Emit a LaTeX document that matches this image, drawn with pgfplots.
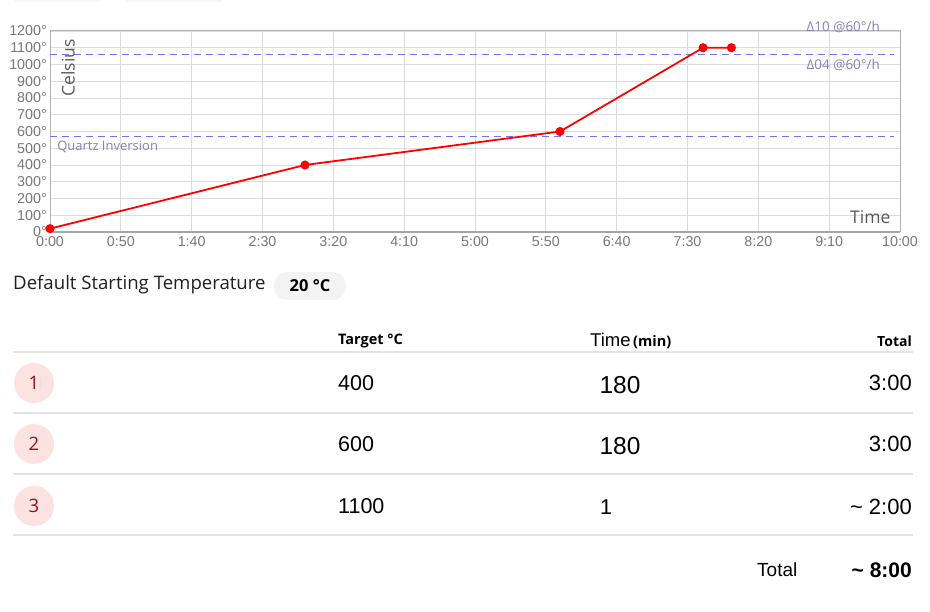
\documentclass[border=0pt]{standalone}
\usepackage{pgfplots}
\pgfplotsset{compat=1.18}
\usepackage{fontspec}
\setmainfont{Open Sans}
\newfontfamily\lib{Liberation Sans}
\definecolor{tickc}{HTML}{777777}
\definecolor{gridc}{HTML}{DCDCDC}
\definecolor{dashc}{HTML}{7070F8}
\definecolor{annc}{HTML}{8A7FB5}
\definecolor{pinkc}{HTML}{FDE2E2}
\definecolor{darkred}{HTML}{951515}
\definecolor{sepc}{HTML}{E3E3E3}
\definecolor{badgec}{HTML}{F3F3F3}
\newcommand\fs[1]{\fontsize{#1}{#1}\selectfont}
\begin{document}
\begin{tikzpicture}[x=1pt,y=1pt]
\useasboundingbox (0,0) rectangle (930,-612);
\fill[white] (0,0) rectangle (930,-612);
\fill[gray!8] (15,0) rectangle (100,-2.5);
\fill[gray!8] (125,0) rectangle (222,-2.5);
\begin{axis}[
  at={(50pt,-232pt)}, anchor=south west,
  scale only axis, width=850pt, height=201pt,
  xmin=0, xmax=600, ymin=0, ymax=1200,
  xtick={0,50,...,600},
  xticklabels={0:00,0:50,1:40,2:30,3:20,4:10,5:00,5:50,6:40,7:30,8:20,9:10,10:00},
  ytick={0,100,...,1200},
  yticklabels={0°,100°,200°,300°,400°,500°,600°,700°,800°,900°,1000°,1100°,1200°},
  grid=major, major grid style={draw=gridc, line width=0.9pt},
  axis line style={draw=black!30, line width=1pt},
  major tick length=0pt,
  tick label style={font=\lib\fs{14.3}, text=tickc},
  yticklabel style={inner sep=1pt, xshift=-2pt},
  xticklabel style={inner sep=1pt, yshift=-3.5pt},
  clip=false,
]
\draw[black!35, line width=2pt] (axis cs:0,0) -- (axis cs:600,0);
\addplot[color=dashc, solid, line width=1.1pt, dash pattern=on 7pt off 5pt, forget plot] coordinates {(0,571) (596,571)};
\addplot[color=dashc, solid, line width=1.3pt, dash pattern=on 7pt off 5pt, forget plot] coordinates {(0,1061) (596,1061)};
\addplot[red, line width=1.8pt, mark=*, mark size=3.6pt, mark options={fill=red, draw=red, solid}]
  coordinates {(0,20) (180,400) (360,600) (461,1100) (481,1100)};
\node[anchor=west, font=\fs{13}, text=annc, inner sep=0pt] at (axis cs:5,509) {Quartz Inversion};
\node[anchor=east, font=\fs{13.5}, text=annc, inner sep=0pt] at (axis cs:586,1000) {Δ04 @60°/h};
\node[anchor=east, font=\fs{13.5}, text=annc, inner sep=0pt] at (axis cs:586,1225) {Δ10 @60°/h};
\node[rotate=90, font=\fs{17.5}, text=black!65, inner sep=0pt] at (axis cs:12.7,979) {Celsius};
\node[font=\fs{17.5}, text=black!65, inner sep=0pt] at (axis cs:579,90) {Time};
\end{axis}
% settings area
\node[anchor=west, font=\fs{18.6}, text=black!88, inner sep=0pt] at (13,-285) {Default Starting Temperature};
\node[fill=badgec, rounded corners=13pt, minimum width=72pt, minimum height=28pt, font=\bfseries\fs{16.5}, inner sep=0pt] at (310,-286) {20 °C};
% header
\node[anchor=west, font=\bfseries\fs{14.5}, inner sep=0pt] at (338,-341) {Target °C};
\node[anchor=west, inner sep=0pt] at (590,-341) {{\lib\fs{18.5}Time} {\bfseries\fs{14.5}(min)}};
\node[anchor=east, font=\bfseries\fs{14}, inner sep=0pt] at (912,-341) {Total};
\foreach \yy in {352,413,474,535} {\draw[sepc, line width=1.3pt] (13,-\yy) -- (913,-\yy);}
% rows
\foreach \yy/\n/\tg/\tm/\tt in {383/1/400/180/3:00, 444/2/600/180/3:00} {
  \fill[pinkc] (34,-\yy) circle (20);
  \node[text=darkred, font=\fs{18.5}, inner sep=0pt] at (34,-\yy) {\n};
  \node[anchor=west, font=\lib\fs{21.5}, inner sep=0pt] at (338,-\yy) {\tg};
  \node[font=\lib\fs{24.5}, inner sep=0pt] at (620,-\yy-2) {\tm};
  \node[anchor=east, font=\lib\fs{22}, inner sep=0pt] at (912,-\yy) {\tt};
}
\fill[pinkc] (34,-506) circle (20);
\node[text=darkred, font=\fs{18.5}, inner sep=0pt] at (34,-506) {3};
\node[anchor=west, font=\lib\fs{21.5}, inner sep=0pt] at (338,-506) {1100};
\node[font=\lib\fs{21.5}, inner sep=0pt] at (606,-507) {1};
\node[anchor=east, font=\lib\fs{22}, inner sep=0pt] at (912,-507) {\textasciitilde\ 2:00};
% total
\node[anchor=west, font=\lib\fs{19}, inner sep=0pt] at (757,-570) {Total};
\node[anchor=east, font=\lib\bfseries\fs{21}, inner sep=0pt] at (912,-570) {\textasciitilde\ 8:00};
\end{tikzpicture}
\end{document}
